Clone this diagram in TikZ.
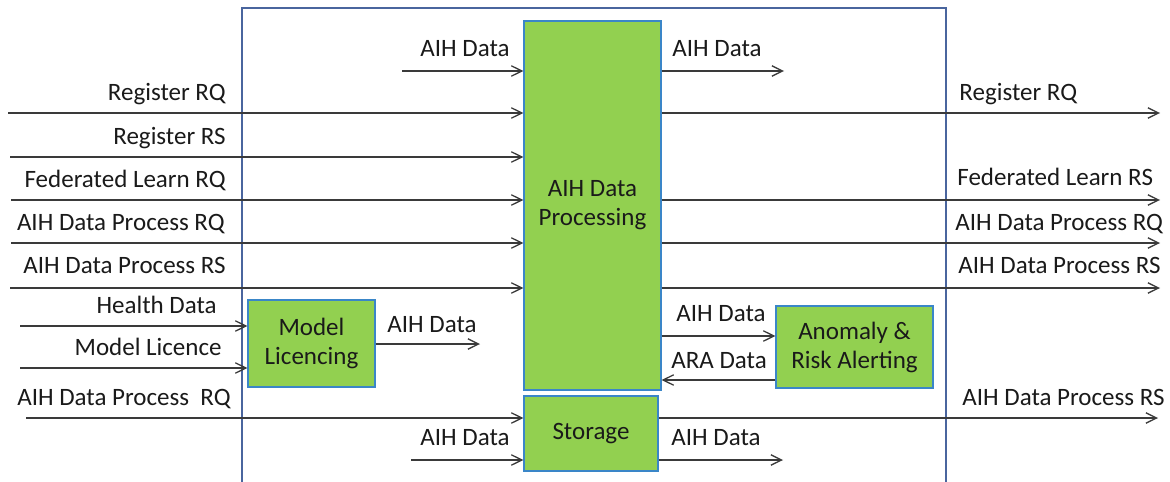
\documentclass[tikz,border=0pt]{standalone}
\usepackage{fontspec}
\setmainfont{Carlito}
\usetikzlibrary{arrows.meta}
\definecolor{boxgreen}{HTML}{92D050}
\definecolor{boxedge}{HTML}{3A86C8}
\definecolor{framec}{HTML}{4A659E}
\definecolor{linec}{HTML}{3A3A3A}
\definecolor{textc}{HTML}{1A1A1A}
\begin{document}
\begin{tikzpicture}[x=0.5pt,y=-0.5pt,
  every node/.style={font=\fontsize{12.5pt}{14.5pt}\selectfont, text=textc, inner sep=0pt},
  arr/.style={draw=linec, line width=0.65pt, -{Straight Barb[length=5.3pt,width=5.2pt,line width=0.65pt]}},
  block/.style={draw=boxedge, line width=0.6pt, fill=boxgreen, align=center, inner sep=0pt},
  lbl/.style={anchor=base east},
  rlbl/.style={anchor=base west}]

\clip (0,0) rectangle (1170,481);
\fill[white] (0,0) rectangle (1170,481);

% system boundary (open at the bottom)
\draw[framec, line width=0.55pt] (242,490) -- (242,8) -- (946,8) -- (946,490);

% functional blocks
\node[block, minimum width=68.5pt, minimum height=184.5pt] (proc) at (592.5,205.5) {AIH Data\\Processing};
\node[block, minimum width=67pt, minimum height=37.5pt] (stor) at (591,433.5) {Storage};
\node[block, minimum width=63.5pt, minimum height=43.5pt] (lic) at (311.5,343.5) {Model\\Licencing};
\node[block, minimum width=78.5pt, minimum height=41pt] (ara) at (854.5,347) {Anomaly \&\\Risk Alerting};

% free ends of the connectors
\coordinate (iRegRQ) at (8,113);
\coordinate (iRegRS) at (10,157);
\coordinate (iFedRQ) at (11,200);
\coordinate (iProcRQ) at (11,243);
\coordinate (iProcRS) at (10,288);
\coordinate (iHealth) at (20,326);
\coordinate (iLicence) at (20,368);
\coordinate (iStorRQ) at (26,418);
\coordinate (iTopData) at (402,71);
\coordinate (iStorData) at (411,460);
\coordinate (oTopData) at (784,71);
\coordinate (oRegRQ) at (1160,113);
\coordinate (oFedRS) at (1160,200);
\coordinate (oProcRQ) at (1160,243);
\coordinate (oProcRS) at (1160,288);
\coordinate (oStorRS) at (1158,418);
\coordinate (oLicData) at (480,344);
\coordinate (oStorData) at (783,460);
\coordinate (aIn) at (0,336);
\coordinate (aOut) at (0,380);

% inputs on the left
\draw[arr] (iRegRQ) -- (iRegRQ -| proc.west);
\draw[arr] (iRegRS) -- (iRegRS -| proc.west);
\draw[arr] (iFedRQ) -- (iFedRQ -| proc.west);
\draw[arr] (iProcRQ) -- (iProcRQ -| proc.west);
\draw[arr] (iProcRS) -- (iProcRS -| proc.west);
\draw[arr] (iHealth) -- (iHealth -| lic.west);
\draw[arr] (iLicence) -- (iLicence -| lic.west);
\draw[arr] (iStorRQ) -- (iStorRQ -| stor.west);
\draw[arr] (iTopData) -- (iTopData -| proc.west);
\draw[arr] (iStorData) -- (iStorData -| stor.west);

\node[lbl] (tRegRQ) at (226,100) {Register RQ};
\node[lbl] (tRegRS) at (226,144) {Register RS};
\node[lbl] (tFedRQ) at (226,187) {Federated Learn RQ};
\node[lbl] (tProcRQ) at (225,230) {AIH Data Process RQ};
\node[lbl] (tProcRS) at (226,273) {AIH Data Process RS};
\node[lbl] (tHealth) at (217,313) {Health Data};
\node[lbl] (tLicence) at (222,355) {Model Licence};
\node[lbl] (tStorRQ) at (231,405) {AIH Data Process\ \ RQ};
\node[lbl] (tTopData) at (510,57) {AIH Data};
\node[lbl] (tStorData) at (510,445) {AIH Data};

% outputs on the right
\draw[arr] (oTopData -| proc.east) -- (oTopData);
\draw[arr] (oRegRQ -| proc.east) -- (oRegRQ);
\draw[arr] (oFedRS -| proc.east) -- (oFedRS);
\draw[arr] (oProcRQ -| proc.east) -- (oProcRQ);
\draw[arr] (oProcRS -| proc.east) -- (oProcRS);
\draw[arr] (oStorRS -| stor.east) -- (oStorRS);
\draw[arr] (oLicData -| lic.east) -- (oLicData);
\draw[arr] (oStorData -| stor.east) -- (oStorData);

\node[rlbl] (tOTopData) at (672,57) {AIH Data};
\node[rlbl] (tORegRQ) at (959,100) {Register RQ};
\node[rlbl] (tOFedRS) at (957,185) {Federated Learn RS};
\node[rlbl] (tOProcRQ) at (955,230) {AIH Data Process RQ};
\node[rlbl] (tOProcRS) at (958,273) {AIH Data Process RS};
\node[rlbl] (tOStorRS) at (962,405) {AIH Data Process RS};
\node[rlbl] (tOLicData) at (387,332) {AIH Data};
\node[rlbl] (tOStorData) at (671,445) {AIH Data};

% exchange with the alerting block
\draw[arr] (aIn -| proc.east) -- (aIn -| ara.west);
\draw[arr] (aOut -| ara.west) -- (aOut -| proc.east);
\node[rlbl] (tAIn) at (676,321) {AIH Data};
\node[rlbl] (tAOut) at (671,368) {ARA Data};

\end{tikzpicture}
\end{document}
